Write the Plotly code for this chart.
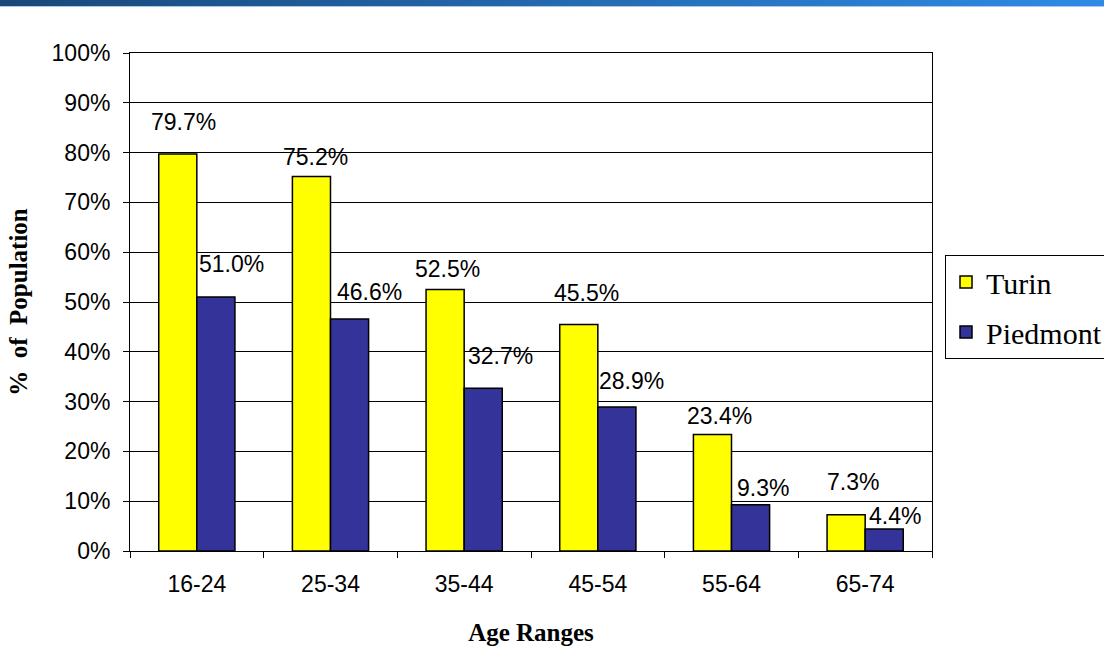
import plotly.graph_objects as go

# Internet use by age range, Turin vs Piedmont
age_ranges = ["16-24", "25-34", "35-44", "45-54", "55-64", "65-74"]
turin = [79.7, 75.2, 52.5, 45.5, 23.4, 7.3]
piedmont = [51.0, 46.6, 32.7, 28.9, 9.3, 4.4]
y_ticks = [0, 10, 20, 30, 40, 50, 60, 70, 80, 90, 100]

# label nudges (px): horizontal offset from the category centre, height above bar top
turin_dx = [-13, -15, -17, -11, -12, -12]
turin_dy = [32, 20, 21, 31, 18, 33]
piedmont_dx = [35, 39, 36, 34, 31, 30]
piedmont_dy = [33, 27, 32, 26, 17, 13]

W, H = 1104, 669
SERIF = "Times New Roman, Liberation Serif, DejaVu Serif, serif"
SANS = "Arial, Liberation Sans, sans-serif"

fig = go.Figure()
fig.add_trace(go.Bar(
    name="Turin", x=age_ranges, y=turin, legendgroup="t",
    marker=dict(color="#FFFF00", line=dict(color="#000000", width=1.5)),
))
fig.add_trace(go.Bar(
    name="Piedmont", x=age_ranges, y=piedmont, legendgroup="p",
    marker=dict(color="#333399", line=dict(color="#000000", width=1.5)),
))

annotations = []
for vals, dxs, dys in ((turin, turin_dx, turin_dy), (piedmont, piedmont_dx, piedmont_dy)):
    for cat, v, dx, dy in zip(age_ranges, vals, dxs, dys):
        annotations.append(dict(
            x=cat, y=v, xref="x", yref="y", text=f"{v:.1f}%", showarrow=False,
            xanchor="center", yanchor="middle", xshift=dx, yshift=dy,
            font=dict(family=SANS, size=23, color="#000000"),
        ))

# header band across the top of the page
grad_svg = (
    "data:image/svg+xml;utf8,"
    "<svg xmlns='http://www.w3.org/2000/svg' width='1104' height='8' preserveAspectRatio='none'>"
    "<defs><linearGradient id='g' x1='0' y1='0' x2='1' y2='0'>"
    "<stop offset='0' stop-color='%23194878'/><stop offset='1' stop-color='%232E8BE6'/>"
    "</linearGradient></defs>"
    "<rect x='0' y='0' width='1104' height='6' fill='url(%23g)'/>"
    "<rect x='0' y='6' width='1104' height='1' fill='%23A9C8EA'/>"
    "</svg>"
)

fig.update_layout(
    width=W, height=H,
    margin=dict(l=130, r=W - 932, t=53, b=H - 551, autoexpand=False),
    paper_bgcolor="#FFFFFF", plot_bgcolor="#FFFFFF",
    barmode="group", bargap=0.43, bargroupgap=0,
    font=dict(family=SERIF, size=30, color="#000000"),
    showlegend=True,
    legend=dict(
        xref="container", yref="container",
        x=945 / W, y=1 - 255 / H, xanchor="left", yanchor="top",
        bordercolor="#000000", borderwidth=1, bgcolor="#FFFFFF",
        font=dict(family=SERIF, size=30, color="#000000"),
        traceorder="grouped", tracegroupgap=8,
    ),
    annotations=annotations,
    images=[dict(
        source=grad_svg, xref="paper", yref="paper", sizing="stretch",
        x=-130 / 802, y=1 + 53 / 498, xanchor="left", yanchor="top",
        sizex=W / 802, sizey=8 / 498, layer="above",
    )],
    xaxis=dict(
        type="category", tickson="boundaries", ticks="outside", ticklen=6,
        tickcolor="#000000", showline=True, linecolor="#000000", linewidth=1,
        mirror=True, showgrid=False, ticklabelstandoff=12,
        tickfont=dict(family=SANS, size=23),
        title=dict(text="<b>Age Ranges</b>", standoff=27,
                   font=dict(family=SERIF, size=25)),
    ),
    yaxis=dict(
        range=[0, 100], tickvals=y_ticks, ticktext=[f"{t}%" for t in y_ticks],
        ticks="outside", ticklen=6, tickcolor="#000000",
        showline=True, linecolor="#000000", linewidth=1, mirror=True,
        showgrid=True, gridcolor="#000000", gridwidth=1, zeroline=False,
        ticklabelstandoff=8,
        tickfont=dict(family=SANS, size=23),
        title=dict(text="<b>%  of  Population</b>", standoff=16,
                   font=dict(family=SERIF, size=25)),
    ),
)

fig.write_html("out.html")
